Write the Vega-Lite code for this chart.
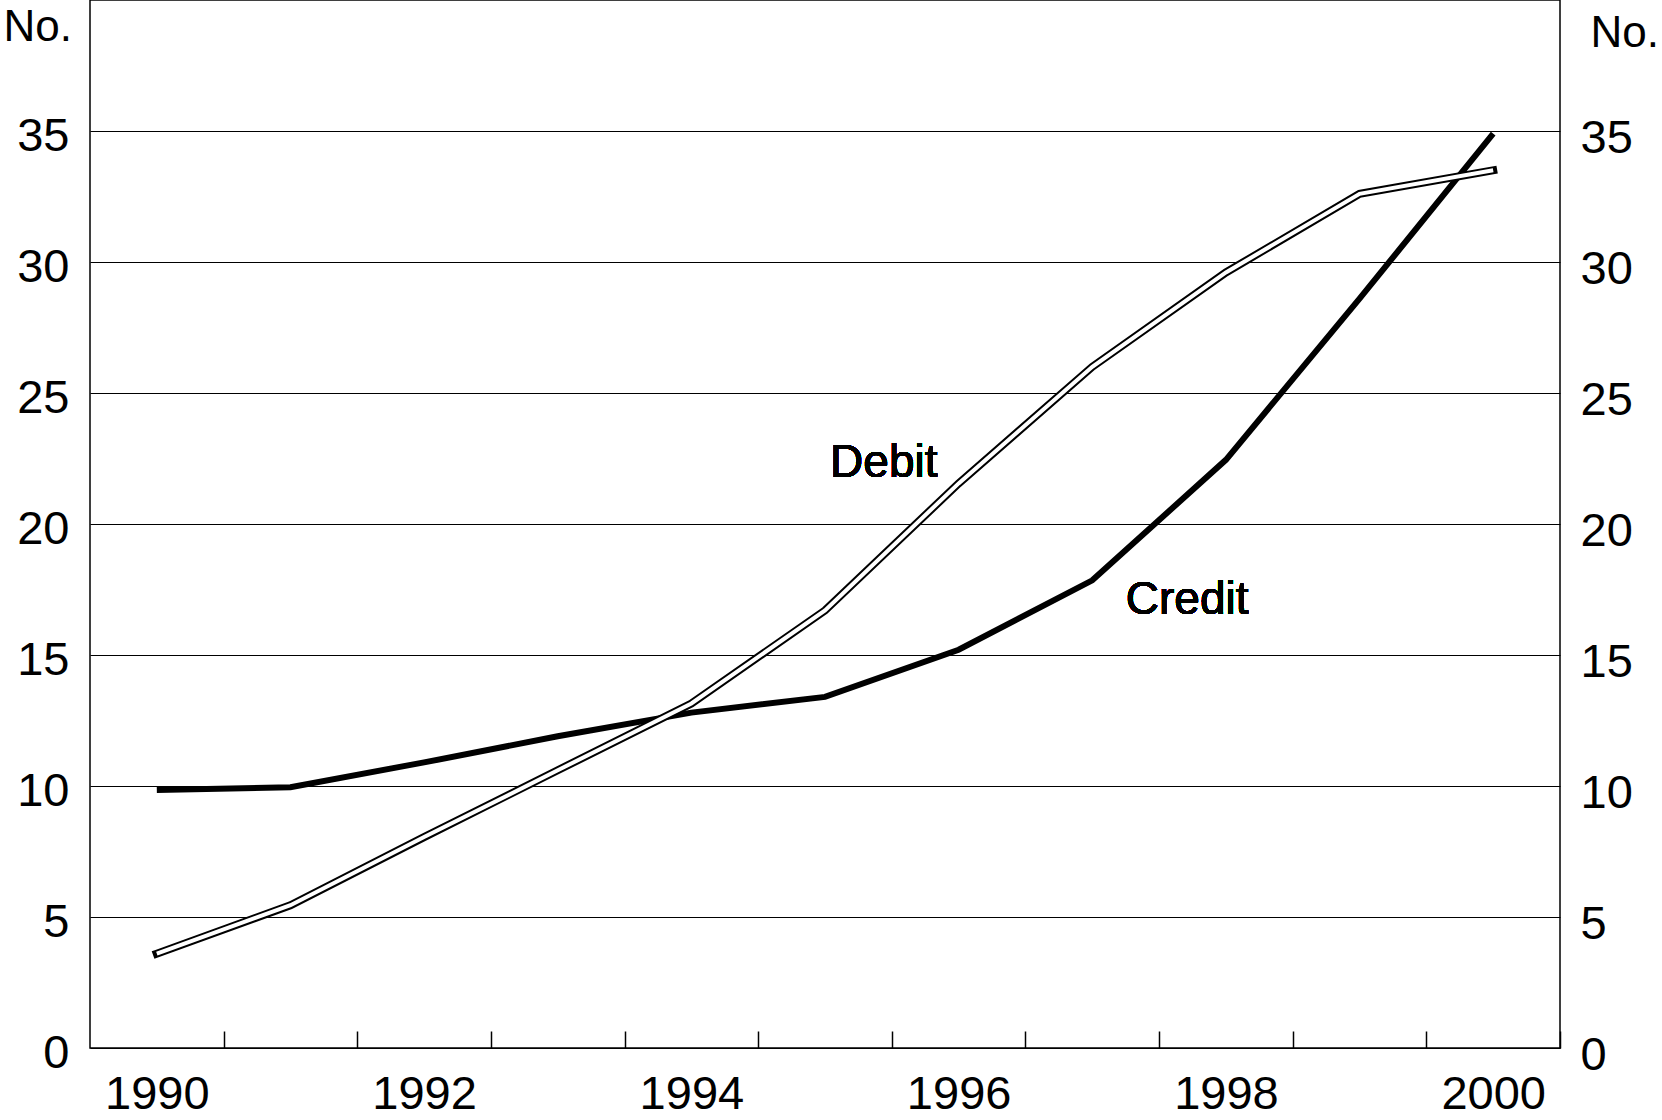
{
  "$schema": "https://vega.github.io/schema/vega-lite/v6.json",
  "width": 1470,
  "height": 1048,
  "autosize": "none",
  "padding": {"left": 90, "top": 0, "right": 102, "bottom": 72},
  "background": "white",
  "config": {
    "view": {"stroke": "black", "strokeWidth": 1.5},
    "font": "Liberation Sans"
  },
  "data": {
    "values": [
      {"year": 1990, "series": "Credit", "value": 9.85},
      {"year": 1991, "series": "Credit", "value": 9.95},
      {"year": 1992, "series": "Credit", "value": 10.9},
      {"year": 1993, "series": "Credit", "value": 11.9},
      {"year": 1994, "series": "Credit", "value": 12.8},
      {"year": 1995, "series": "Credit", "value": 13.4},
      {"year": 1996, "series": "Credit", "value": 15.2},
      {"year": 1997, "series": "Credit", "value": 17.85},
      {"year": 1998, "series": "Credit", "value": 22.45},
      {"year": 1999, "series": "Credit", "value": 28.6},
      {"year": 2000, "series": "Credit", "value": 34.9},
      {"year": 1990, "series": "Debit", "value": 3.6},
      {"year": 1991, "series": "Debit", "value": 5.45},
      {"year": 1992, "series": "Debit", "value": 8.05},
      {"year": 1993, "series": "Debit", "value": 10.6},
      {"year": 1994, "series": "Debit", "value": 13.15},
      {"year": 1995, "series": "Debit", "value": 16.7},
      {"year": 1996, "series": "Debit", "value": 21.55},
      {"year": 1997, "series": "Debit", "value": 26.0},
      {"year": 1998, "series": "Debit", "value": 29.6},
      {"year": 1999, "series": "Debit", "value": 32.6},
      {"year": 2000, "series": "Debit", "value": 33.5}
    ]
  },
  "encoding": {
    "x": {
      "field": "year",
      "type": "quantitative",
      "scale": {"domain": [1989.5, 2000.5], "nice": false, "zero": false},
      "axis": {
        "orient": "bottom",
        "title": null,
        "values": [1990.5, 1991.5, 1992.5, 1993.5, 1994.5, 1995.5, 1996.5, 1997.5, 1998.5, 1999.5, 2000.5],
        "labelExpr": "(datum.value - 0.5) % 2 === 0 ? format(datum.value - 0.5, 'd') : ''",
        "labelOffset": -66.8,
        "labelOverlap": false,
        "labelFlush": false,
        "labelBound": false,
        "labelFont": "Liberation Sans",
        "labelFontSize": 47,
        "labelColor": "black",
        "labelPadding": 40,
        "grid": false,
        "domain": false,
        "ticks": true,
        "tickColor": "black",
        "tickWidth": 1.5,
        "tickSize": -17
      }
    },
    "y": {
      "field": "value",
      "type": "quantitative",
      "scale": {"domain": [0, 40], "nice": false},
      "axis": null
    }
  },
  "layer": [
    {
      "transform": [{"filter": "datum.series === 'Credit'"}],
      "mark": {"type": "line", "color": "black", "strokeWidth": 6, "strokeCap": "butt", "strokeJoin": "miter"},
      "encoding": {
        "y": {
          "field": "value",
          "type": "quantitative",
          "axis": {
            "orient": "left",
            "values": [0, 5, 10, 15, 20, 25, 30, 35],
            "grid": true,
            "gridColor": "black",
            "gridWidth": 1.2,
            "gridOpacity": 1,
            "ticks": false,
            "domain": false,
            "labelFont": "Liberation Sans",
            "labelFontSize": 47,
            "labelColor": "black",
            "labelPadding": 21,
            "labelBaseline": "middle",
            "labelOffset": 5,
            "labelBound": false,
            "labelOverlap": false,
            "title": "No.",
            "titleFont": "Liberation Sans",
            "titleFontSize": 44,
            "titleFontWeight": "normal",
            "titleColor": "black",
            "titleAngle": 0,
            "titleAlign": "left",
            "titleBaseline": "alphabetic",
            "titleX": -87,
            "titleY": 40
          }
        }
      }
    },
    {
      "transform": [{"filter": "datum.series === 'Debit'"}],
      "mark": {"type": "line", "color": "black", "strokeWidth": 8, "strokeCap": "square", "strokeJoin": "miter"},
      "encoding": {
        "y": {
          "field": "value",
          "type": "quantitative",
          "axis": {
            "orient": "right",
            "values": [0, 5, 10, 15, 20, 25, 30, 35],
            "grid": false,
            "ticks": false,
            "domain": false,
            "labelFont": "Liberation Sans",
            "labelFontSize": 47,
            "labelColor": "black",
            "labelPadding": 20,
            "labelBaseline": "middle",
            "labelOffset": 7,
            "labelBound": false,
            "labelOverlap": false,
            "title": "No.",
            "titleFont": "Liberation Sans",
            "titleFontSize": 44,
            "titleFontWeight": "normal",
            "titleColor": "black",
            "titleAngle": 0,
            "titleAlign": "left",
            "titleBaseline": "alphabetic",
            "titleX": 30,
            "titleY": 46
          }
        }
      }
    },
    {
      "transform": [{"filter": "datum.series === 'Debit'"}],
      "mark": {"type": "line", "color": "white", "strokeWidth": 4, "strokeCap": "butt", "strokeJoin": "miter"},
      "encoding": {}
    },
    {
      "mark": {"type": "text", "text": "Debit", "font": "Liberation Sans", "fontSize": 46, "align": "center", "baseline": "alphabetic", "color": "black"},
      "encoding": {"x": {"datum": 1995.44}, "y": {"datum": 21.8}}
    },
    {
      "mark": {"type": "text", "text": "Credit", "font": "Liberation Sans", "fontSize": 46, "align": "center", "baseline": "alphabetic", "color": "black"},
      "encoding": {"x": {"datum": 1997.71}, "y": {"datum": 16.56}}
    }
  ],
  "resolve": {"axis": {"y": "independent"}}
}
